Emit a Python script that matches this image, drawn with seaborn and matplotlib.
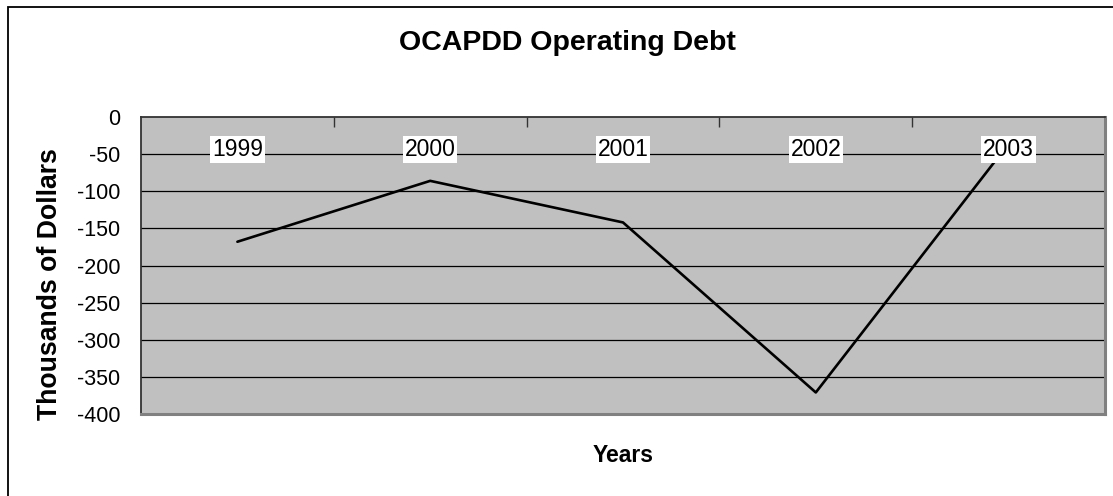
import matplotlib
matplotlib.use("Agg")
import matplotlib.pyplot as plt
from matplotlib.patches import Rectangle
import seaborn as sns
import pandas as pd

# Operating debt by fiscal year, in thousands of dollars
years = ["1999", "2000", "2001", "2002", "2003"]
debt = [-168, -86, -142, -371, -36]
y_ticks = [0, -50, -100, -150, -200, -250, -300, -350, -400]

title = "OCAPDD Operating Debt"
x_label = "Years"
y_label = "Thousands of Dollars"

sns.set_style("white")
plt.rcParams["font.family"] = ["Liberation Sans", "DejaVu Sans"]
plt.rcParams["axes.unicode_minus"] = False
plt.rcParams["text.color"] = "black"
plt.rcParams["ytick.color"] = "black"
plt.rcParams["xtick.color"] = "black"

W, H = 1113, 496
fig = plt.figure(figsize=(W / 100, H / 100), dpi=100)
fig.patch.set_facecolor("white")

# plot area in pixel terms: left 141, right 1105, top 117, bottom 414
ax = fig.add_axes([141 / W, 1 - 414 / H, (1105 - 141) / W, (414 - 117) / H])
ax.set_facecolor("#C0C0C0")

df = pd.DataFrame({"year": years, "debt": debt})
sns.lineplot(data=df, x="year", y="debt", ax=ax, color="black", linewidth=1.9,
             sort=False, zorder=3)

ax.set_xlim(-0.5, len(years) - 0.5)
ax.set_ylim(min(y_ticks), max(y_ticks))
ax.set_yticks(y_ticks)
ax.set_yticklabels([str(v) for v in y_ticks])
ax.tick_params(axis="y", direction="out", length=7, width=1, color="#333333",
               labelsize=15.5, pad=8, labelcolor="black")

# horizontal gridlines
for v in y_ticks[1:-1]:
    ax.axhline(v, color="black", linewidth=0.9, zorder=1)

# category separators as ticks on the zero line, labels drawn separately
ax.xaxis.set_ticks_position("top")
ax.set_xticks([i + 0.5 for i in range(len(years) - 1)])
ax.set_xticklabels([])
ax.tick_params(axis="x", direction="in", length=7, width=1, color="#333333")

for i, yr in enumerate(years):
    ax.text(i, 0.8897, yr, transform=ax.get_xaxis_transform(), ha="center",
            va="center", fontsize=16.5, color="black", zorder=4,
            bbox=dict(boxstyle="square,pad=0.08", facecolor="white",
                      edgecolor="none"))

ax.set_xlabel("")
ax.set_ylabel("")

for side in ["top", "left"]:
    ax.spines[side].set_color("#333333")
    ax.spines[side].set_linewidth(1.3)
for side in ["right", "bottom"]:
    ax.spines[side].set_color("#808080")
    ax.spines[side].set_linewidth(2.2)
for s in ax.spines.values():
    s.set_visible(True)

fig.text(567 / W, 1 - 43 / H, title, ha="center", va="center",
         fontsize=20.5, fontweight="bold", color="black")
fig.text(623.5 / W, 1 - 455 / H, x_label, ha="center", va="center",
         fontsize=16.5, fontweight="bold", color="black")
fig.text(50 / W, 1 - 284 / H, y_label, ha="center", va="center",
         rotation=90, fontsize=19.2, fontweight="bold", color="black")

# chart frame
fig.patches.append(Rectangle((8 / W, -0.2), 1.2, 1.2 - 7 / H,
                             transform=fig.transFigure, fill=False,
                             edgecolor="black", linewidth=1.3))

fig.savefig("out.png", dpi=100, facecolor="white")
